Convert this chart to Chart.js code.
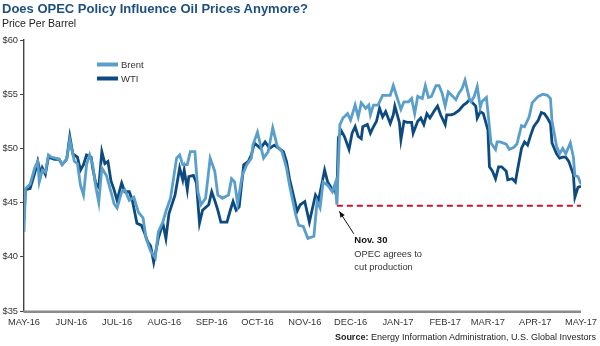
<!DOCTYPE html>
<html>
<head>
<meta charset="utf-8">
<script src="https://cdn.jsdelivr.net/npm/chart.js@4.4.1/dist/chart.umd.min.js"></script>
<style>
html,body{margin:0;padding:0;background:#fff;}
#wrap{position:relative;width:600px;height:346px;overflow:hidden;font-family:"Liberation Sans",Arial,sans-serif;}
#title{position:absolute;left:2px;top:2px;font-weight:bold;font-size:13px;line-height:13px;color:#1d4f7f;white-space:nowrap;}
#sub{position:absolute;left:2px;top:18px;font-size:10.5px;line-height:10.5px;color:#222;white-space:nowrap;}
#source{position:absolute;right:4px;top:333px;font-size:9px;line-height:9px;color:#222;white-space:nowrap;}
#xaxis{position:absolute;left:24px;top:310px;width:557px;height:2px;background:#8a8a8a;}
#c{position:absolute;left:0;top:0;}
</style>
</head>
<body>
<div id="wrap">
  <canvas id="c" width="600" height="346"></canvas>
  <div id="xaxis"></div>
  <div id="title">Does OPEC Policy Influence Oil Prices Anymore?</div>
  <div id="sub">Price Per Barrel</div>
  <div id="source"><b>Source:</b> Energy Information Administration, U.S. Global Investors</div>
</div>
<script>
// Days counted from 1 May 2016
const brentDays = [
  0,1,4,7,9,10,12,14,16,18, 23,25,28,30,33,35,37,39,41,43,
  45,47,49,51,54,57,59,61,64,66, 69,72,75,78,80,83,86,88,91,93,
  96,100,102,104,107,109,112,114,116,119, 122,125,127,130,134,136,138,140,143,146,
  149,150,153,157,160,163,166,169,172,174, 178,180,183,186,190,192,194,196,199,202,
  204,205,207,209,212,214,217,219,221,224, 226,227,229,232,235,237,240,242,244,247,
  249,252,254,256,258,261,263,265,267,270, 272,274,276,278,281,283,285,287,289,291,
  292,293,295,297,299,300,303,304,306,309, 310,312,316,318,321,323,326,328,331,333,
  337,340,343,345,346,349,351,353,355,358, 360,361,363,365
];
const brentPrices = [
  42.3,46.3,46.7,48.2,48.8,46.9,48.0,47.8,49.4,49.2, 49.0,48.5,49.0,50.8,48.8,48.6,46.6,45.7,48.5,49.4,
  48.5,46.5,45.0,48.2,47.5,46.0,44.9,44.5,46.0,46.2, 45.2,45.5,44.1,43.6,41.7,40.5,39.9,42.3,43.2,44.2,
  45.4,49.1,49.4,48.5,48.5,49.7,49.7,46.0,44.8,45.4, 49.1,47.9,45.7,45.4,45.7,47.2,46.9,44.9,47.5,48.5,
  49.1,50.3,51.5,49.1,49.7,51.9,50.2,49.7,48.2,46.6, 43.9,42.9,42.8,41.7,41.9,45.1,44.5,46.9,46.6,46.0,
  46.8,44.8,52.2,52.8,53.2,52.6,54.0,52.9,54.2,53.7, 54.0,53.1,54.0,54.0,54.9,54.9,54.9,55.8,54.9,53.6,
  54.3,54.3,54.6,53.2,54.8,54.6,55.8,54.7,54.8,55.8, 55.8,55.1,53.9,55.2,54.8,54.5,55.1,55.5,56.3,55.1,
  54.5,54.3,54.8,55.7,53.8,54.3,54.7,53.4,50.5,49.9, 50.6,50.6,50.4,49.9,50.1,50.4,52.1,52.0,52.9,54.2,
  54.8,55.0,54.9,54.6,52.5,50.2,49.5,50.0,49.5,50.5, 49.2,47.5,47.4,46.7
];
const wtiDays = [
  0,1,4,7,9,11,12,14,16,20, 23,25,28,30,32,35,37,39,41,44,
  45,47,49,51,53,55,57,59,61,64, 66,69,71,72,74,77,79,81,83,85,
  88,91,93,95,99,102,104,105,107,108, 111,113,115,117,121,123,125,127,129,133,
  135,137,139,141,144,147,149,151,155,158, 161,164,168,170,172,174,176,179,181,184,
  187,191,193,195,197,199,202,204,205,206, 208,210,213,215,217,219,221,222,225,227,
  229,231,233,235,237,240,242,243,246,247, 249,251,254,255,258,260,262,264,266,269,
  271,273,276,277,280,282,285,288,290,292, 294,296,297,299,301,304,305,307,309,311,
  313,316,317,320,322,323,326,328,330,332, 334,337,339,341,343,345,346,349,351,353,
  355,357,360,361,363,365
];
const wtiPrices = [
  43.6,46.2,46.3,47.7,48.8,47.6,48.2,47.6,49.2,49.0, 49.0,48.5,49.0,51.1,49.5,49.2,48.0,48.5,49.4,49.2,
  48.2,46.8,46.4,49.7,48.6,48.8,47.0,46.2,45.2,46.8, 46.0,46.0,45.2,44.5,43.1,42.9,42.2,41.4,41.0,39.5,
  41.7,43.1,41.7,44.0,45.7,48.2,47.1,48.0,46.2,47.4, 47.5,46.8,43.1,44.3,44.8,46.0,45.2,44.3,43.2,43.2,
  44.2,45.1,44.3,44.6,48.5,48.8,49.4,50.5,50.0,50.6, 50.0,50.3,49.9,49.7,48.8,47.2,46.0,44.2,44.8,45.1,
  43.2,45.7,45.2,46.6,48.0,46.9,46.2,46.0,45.6,51.0, 51.6,51.1,49.9,51.4,52.0,51.1,50.9,52.0,52.2,51.4,
  52.0,52.5,53.7,52.9,53.4,52.3,53.1,53.9,52.4,50.8, 52.5,52.4,52.4,51.4,52.5,52.8,52.2,53.2,52.8,53.5,
  53.9,53.1,52.2,53.1,53.1,53.2,53.5,54.0,54.2,54.5, 54.2,53.9,52.8,53.4,53.2,51.7,48.3,47.9,47.2,48.3,
  48.3,47.9,47.1,47.2,46.9,47.7,50.0,50.6,50.3,51.2, 52.0,52.6,53.3,53.2,52.8,52.3,50.5,49.5,49.1,49.2,
  49.2,48.8,47.6,45.5,46.4,46.5
];
const monthTickDays = [0,31,61,92,123,153,184,214,245,276,304,335,365];
const monthTickLabels = ['MAY-16','JUN-16','JUL-16','AUG-16','SEP-16','OCT-16','NOV-16','DEC-16','JAN-17','FEB-17','MAR-17','APR-17','MAY-17'];
const priceTicks = [35,40,45,50,55,60];
const opecCutDays = [205,365];
const opecCutLevel = [44.7,44.7];
const annotationLines = ['Nov. 30','OPEC agrees to','cut production'];

const BRENT = '#5a9fca';
const WTI = '#0d4a80';
const FONT = '"Liberation Sans", Arial, sans-serif';

const toPoints = (xs, ys) => xs.map((v, i) => ({x: v, y: ys[i]}));

const overlay = {
  id: 'overlay',
  afterDraw(chart) {
    const ctx = chart.ctx;
    const xs = chart.scales.x, ys = chart.scales.y;
    // horizontal axis line, placed from the scales
    const x0 = xs.getPixelForValue(xs.min), x1 = xs.getPixelForValue(xs.max);
    const yb = ys.getPixelForValue(ys.min);
    const ax = document.getElementById('xaxis');
    ax.style.left = (x0 - 0.5) + 'px';
    ax.style.width = (x1 - x0 + 0.5) + 'px';
    ax.style.top = (yb - 0.5) + 'px';
    ctx.save();
    ctx.setLineDash([]);
    ctx.fillStyle = '#8a8a8a';
    ctx.fillRect(x0 - 0.7, yb - 0.5, x1 - x0 + 0.7, 2.2);
    // legend
    const leg = [{ds: 0, y: 64.5}, {ds: 1, y: 78.5}];
    ctx.font = '9.5px ' + FONT;
    ctx.textBaseline = 'middle';
    ctx.textAlign = 'left';
    leg.forEach(it => {
      const d = chart.data.datasets[it.ds];
      ctx.strokeStyle = d.borderColor;
      ctx.lineWidth = 4;
      ctx.beginPath();
      ctx.moveTo(97, it.y);
      ctx.lineTo(118, it.y);
      ctx.stroke();
      ctx.fillStyle = '#333';
      ctx.fillText(d.label, 121, it.y + 0.5);
    });
    // annotation arrow
    const px = xs.getPixelForValue(opecCutDays[0]);
    const py = ys.getPixelForValue(opecCutLevel[0]);
    const tipX = px + 2.5, tipY = py + 5.5;
    const tailX = px + 17, tailY = py + 28;
    ctx.strokeStyle = '#111';
    ctx.fillStyle = '#111';
    ctx.lineWidth = 1;
    ctx.beginPath();
    ctx.moveTo(tailX, tailY);
    ctx.lineTo(tipX, tipY);
    ctx.stroke();
    const ang = Math.atan2(tipY - tailY, tipX - tailX);
    const L = 6, W = 2.6;
    ctx.beginPath();
    ctx.moveTo(tipX, tipY);
    ctx.lineTo(tipX - L * Math.cos(ang) + W * Math.sin(ang), tipY - L * Math.sin(ang) - W * Math.cos(ang));
    ctx.lineTo(tipX - L * Math.cos(ang) - W * Math.sin(ang), tipY - L * Math.sin(ang) + W * Math.cos(ang));
    ctx.closePath();
    ctx.fill();
    // annotation text
    ctx.textBaseline = 'alphabetic';
    ctx.fillStyle = '#111';
    ctx.font = 'bold 9.5px ' + FONT;
    ctx.fillText(annotationLines[0], px + 17.5, py + 37.5);
    ctx.fillStyle = '#333';
    ctx.font = '9.3px ' + FONT;
    ctx.fillText(annotationLines[1], px + 17.5, py + 51);
    ctx.fillText(annotationLines[2], px + 17.5, py + 64.5);
    ctx.restore();
  }
};

new Chart(document.getElementById('c'), {
  type: 'line',
  data: {
    datasets: [
      {label: 'Brent', data: toPoints(brentDays, brentPrices), borderColor: BRENT, borderWidth: 2.8, pointRadius: 0, tension: 0, order: 1},
      {label: 'WTI', data: toPoints(wtiDays, wtiPrices), borderColor: WTI, borderWidth: 2.8, pointRadius: 0, tension: 0, order: 2},
      {label: 'OPEC cut', data: toPoints(opecCutDays, opecCutLevel), borderColor: '#c8142e', borderWidth: 2, borderDash: [6, 4], pointRadius: 0, order: 0}
    ]
  },
  options: {
    responsive: false,
    animation: false,
    devicePixelRatio: 1,
    layout: {padding: {left: 0, right: 19, top: 40, bottom: 0}},
    plugins: {legend: {display: false}, tooltip: {enabled: false}},
    scales: {
      x: {
        type: 'linear', min: 0, max: 365,
        afterBuildTicks: s => { s.ticks = monthTickDays.map(v => ({value: v})); },
        afterFit: s => { s.height = 35; s.paddingLeft = 0; s.paddingRight = 0; },
        ticks: {
          autoSkip: false, maxRotation: 0, minRotation: 0, padding: 6,
          color: '#333', font: {family: FONT, size: 9.3},
          callback: v => monthTickLabels[monthTickDays.indexOf(v)]
        },
        grid: {display: true, drawOnChartArea: false, drawTicks: false, tickLength: 0, color: 'rgba(0,0,0,0)'},
        border: {display: false}
      },
      y: {
        min: 35, max: 60,
        afterBuildTicks: s => { s.ticks = priceTicks.map(v => ({value: v})); },
        afterFit: s => { s.width = 24; },
        ticks: {padding: 2, color: '#333', font: {family: FONT, size: 9.3}, callback: v => '$' + v},
        grid: {drawOnChartArea: false, drawTicks: true, tickLength: 4, color: '#444', lineWidth: 1},
        border: {display: true, color: '#444', width: 1.4}
      }
    }
  },
  plugins: [overlay]
});
</script>
</body>
</html>
